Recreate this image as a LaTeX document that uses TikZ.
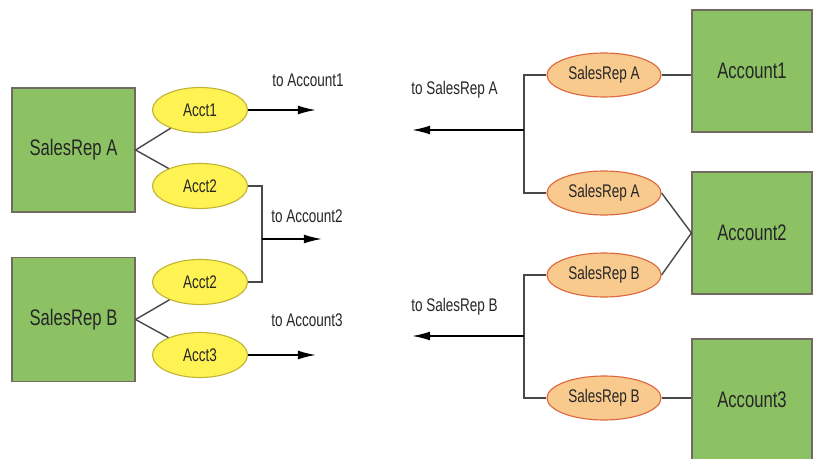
\documentclass[tikz,border=0pt]{standalone}
\usepackage{fontspec}
\setmainfont{Liberation Sans}[FakeStretch=0.74]
\usepackage{tikz}
\usetikzlibrary{shapes,arrows.meta,positioning,calc}
\usepackage{xcolor}
\definecolor{boxgreen}{RGB}{141,194,100}
\definecolor{boxedge}{RGB}{112,106,98}
\definecolor{acctyellow}{RGB}{255,243,84}
\definecolor{acctedge}{RGB}{192,182,52}
\definecolor{repfill}{RGB}{249,202,142}
\definecolor{repedge}{RGB}{222,104,62}
\definecolor{linkgrey}{RGB}{72,72,72}

\begin{document}
\begin{tikzpicture}[
    x=0.025cm, y=-0.025cm,
    entity/.style={rectangle, draw=boxedge, thick, fill=boxgreen,
        font=\fontsize{16}{18}\selectfont, text=black!85, inner sep=2pt},
    acct/.style={ellipse, draw=acctedge, thick, fill=acctyellow,
        minimum width=2.375cm, minimum height=1.125cm, inner sep=0pt,
        font=\fontsize{13}{15}\selectfont, text=black!85},
    rep/.style={ellipse, draw=repedge, thick, fill=repfill,
        minimum width=2.85cm, minimum height=1.1cm, inner sep=0pt,
        font=\fontsize{13}{15}\selectfont, text=black!85},
    link/.style={line width=1pt, linkgrey},
    arr/.style={-{Latex[length=4.5mm, width=2.2mm]}, line width=1.1pt, black},
    lbl/.style={anchor=west, inner sep=0pt, font=\fontsize{13}{15}\selectfont,
        text=black!85}
]
    \useasboundingbox (0,0) rectangle (815,459);

    % ---- Sales reps and their account slots (left) ----
    \node[entity, minimum width=3.075cm, minimum height=3.1cm] (repA) at (73.5,150) {SalesRep A};
    \node[entity, minimum width=3.075cm, minimum height=3.1cm] (repB) at (73.5,319.5) {SalesRep B};

    \node[acct] (a1)  at (200,110) {Acct1};
    \node[acct] (a2)  at (200,186) {Acct2};
    \node[acct] (b2)  at (200,282) {Acct2};
    \node[acct] (b3)  at (200,355) {Acct3};

    \draw[link] (repA.east) -- (a1);
    \draw[link] (repA.east) -- (a2);
    \draw[link] (repB.east) -- (b2);
    \draw[link] (repB.east) -- (b3);

    % pointers out to the accounts
    \coordinate (t1) at (316,110);
    \coordinate (j2) at (262,239);
    \coordinate (t2) at (322,239);
    \coordinate (t3) at (316,355);

    \draw[arr] (a1.east) -- (t1);
    \draw[link] (a2.east) -| (j2) |- (b2.east);
    \draw[arr] (j2) -- (t2);
    \draw[arr] (b3.east) -- (t3);

    \node[lbl] (l1) at (272,80)  {to Account1};
    \node[lbl] (l2) at (271,216) {to Account2};
    \node[lbl] (l3) at (271,320) {to Account3};

    % ---- Accounts and their sales-rep slots (right) ----
    \node[entity, minimum width=3cm, minimum height=3.05cm] (acc1) at (752,71)  {Account1};
    \node[entity, minimum width=3cm, minimum height=3.05cm] (acc2) at (752,233) {Account2};
    \node[entity, minimum width=3cm, minimum height=3.05cm] (acc3) at (752,400) {Account3};

    \node[rep] (sA1) at (604,75)  {SalesRep A};
    \node[rep] (sA2) at (604,193) {SalesRep A};
    \node[rep] (sB1) at (604,275) {SalesRep B};
    \node[rep] (sB2) at (604,398) {SalesRep B};

    \draw[link] (sA1.east) -- (sA1.east -| acc1.west);
    \draw[link] (sA2.east) -- (acc2.west);
    \draw[link] (sB1.east) -- (acc2.west);
    \draw[link] (sB2.east) -- (sB2.east -| acc3.west);

    % pointers back to the reps
    \coordinate (jA) at (524,130);
    \coordinate (tA) at (412,130);
    \coordinate (jB) at (524,336);
    \coordinate (tB) at (412,336);

    \draw[link] (sA1.west) -| (jA) |- (sA2.west);
    \draw[arr] (jA) -- (tA);
    \draw[link] (sB1.west) -| (jB) |- (sB2.west);
    \draw[arr] (jB) -- (tB);

    \node[lbl] (lA) at (411,90)  {to SalesRep A};
    \node[lbl] (lB) at (411,307) {to SalesRep B};
\end{tikzpicture}
\end{document}
